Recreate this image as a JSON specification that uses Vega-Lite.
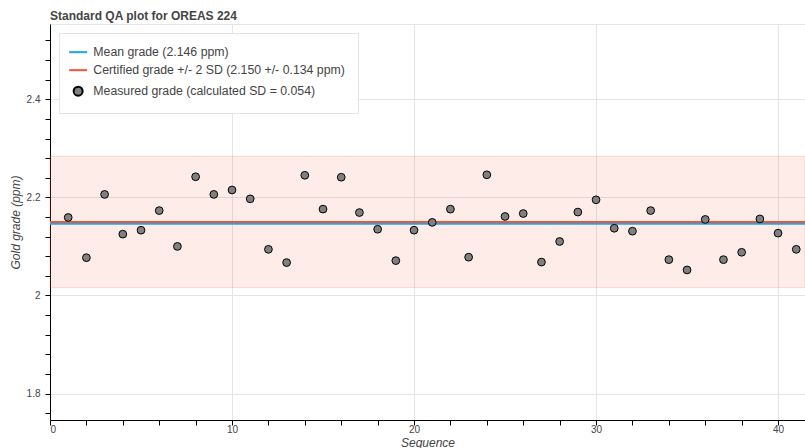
{
  "$schema": "https://vega.github.io/schema/vega-lite/v6.json",
  "description": "Standard QA plot for OREAS 224",
  "width": 755,
  "height": 396,
  "autosize": "none",
  "padding": {"left": 50, "top": 24, "right": 0, "bottom": 28},
  "title": {
    "text": "Standard QA plot for OREAS 224",
    "anchor": "start",
    "frame": "group",
    "fontSize": 12,
    "fontWeight": "bold",
    "color": "#444444",
    "baseline": "alphabetic",
    "offset": -8
  },
  "config": {
    "font": "Liberation Sans",
    "view": {"stroke": "#e5e5e5"},
    "axis": {
      "domainColor": "black",
      "tickColor": "black",
      "tickSize": 5,
      "labelColor": "#444444",
      "labelFontSize": 10,
      "gridColor": "#e5e5e5",
      "titleColor": "#444444",
      "titleFontSize": 12,
      "titleFontStyle": "italic",
      "titleFontWeight": "normal"
    },
    "legend": {
      "title": null,
      "orient": "top-left",
      "offset": 9,
      "padding": 13,
      "rowPadding": 5,
      "fillColor": "rgba(255,255,255,0.95)",
      "strokeColor": "#e5e5e5",
      "symbolSize": 81,
      "symbolStrokeWidth": 2,
      "symbolFillColor": "#808080",
      "labelFontSize": 12.3,
      "labelColor": "#444444",
      "labelOffset": 9,
      "labelLimit": 400
    }
  },
  "encoding": {
    "y": {
      "field": "grade",
      "type": "quantitative",
      "scale": {"domain": [1.746, 2.5535], "nice": false, "zero": false},
      "axis": {
        "title": "Gold grade (ppm)",
        "values": [1.76, 1.8, 1.84, 1.88, 1.92, 1.96, 2, 2.04, 2.08, 2.12, 2.16, 2.2, 2.24, 2.28, 2.32, 2.36, 2.4, 2.44, 2.48, 2.52],
        "labelExpr": "indexof([1.8, 2, 2.2, 2.4], datum.value) >= 0 ? format(datum.value, '~g') : ''",
        "gridOpacity": {"condition": {"test": "indexof([1.8, 2, 2.2, 2.4], datum.value) >= 0", "value": 1}, "value": 0},
        "labelPadding": 5,
        "titlePadding": 4
      }
    }
  },
  "layer": [
    {
      "data": {"values": [{"grade": 2.016, "upper": 2.284}]},
      "mark": {"type": "rect", "fill": "#ee4e32", "fillOpacity": 0.11, "stroke": "#ee4e32", "strokeOpacity": 0.18, "strokeWidth": 1},
      "encoding": {"y2": {"field": "upper"}}
    },
    {
      "data": {
        "values": [
          {"series": "Mean grade (2.146 ppm)", "grade": 2.146},
          {"series": "Certified grade +/- 2 SD (2.150 +/- 0.134 ppm)", "grade": 2.15}
        ]
      },
      "mark": {"type": "rule", "strokeWidth": 2},
      "encoding": {
        "color": {
          "field": "series",
          "type": "nominal",
          "scale": {
            "domain": ["Mean grade (2.146 ppm)", "Certified grade +/- 2 SD (2.150 +/- 0.134 ppm)", "Measured grade (calculated SD = 0.054)"],
            "range": ["#1aa7ec", "#ef5536", "black"]
          },
          "legend": {"title": null}
        }
      }
    },
    {
      "data": {
        "values": [
          {"seq": 1, "grade": 2.159}, {"seq": 2, "grade": 2.077}, {"seq": 3, "grade": 2.206},
          {"seq": 4, "grade": 2.125}, {"seq": 5, "grade": 2.133}, {"seq": 6, "grade": 2.173},
          {"seq": 7, "grade": 2.1}, {"seq": 8, "grade": 2.242}, {"seq": 9, "grade": 2.206},
          {"seq": 10, "grade": 2.215}, {"seq": 11, "grade": 2.197}, {"seq": 12, "grade": 2.094},
          {"seq": 13, "grade": 2.067}, {"seq": 14, "grade": 2.245}, {"seq": 15, "grade": 2.176},
          {"seq": 16, "grade": 2.241}, {"seq": 17, "grade": 2.169}, {"seq": 18, "grade": 2.135},
          {"seq": 19, "grade": 2.071}, {"seq": 20, "grade": 2.133}, {"seq": 21, "grade": 2.149},
          {"seq": 22, "grade": 2.176}, {"seq": 23, "grade": 2.078}, {"seq": 24, "grade": 2.246},
          {"seq": 25, "grade": 2.161}, {"seq": 26, "grade": 2.167}, {"seq": 27, "grade": 2.068},
          {"seq": 28, "grade": 2.11}, {"seq": 29, "grade": 2.17}, {"seq": 30, "grade": 2.195},
          {"seq": 31, "grade": 2.137}, {"seq": 32, "grade": 2.131}, {"seq": 33, "grade": 2.173},
          {"seq": 34, "grade": 2.073}, {"seq": 35, "grade": 2.052}, {"seq": 36, "grade": 2.155},
          {"seq": 37, "grade": 2.073}, {"seq": 38, "grade": 2.088}, {"seq": 39, "grade": 2.156},
          {"seq": 40, "grade": 2.127}, {"seq": 41, "grade": 2.094}
        ]
      },
      "mark": {"type": "point", "filled": true, "fill": "#808080", "stroke": "black", "strokeWidth": 1, "opacity": 1, "size": 60},
      "encoding": {
        "x": {
          "field": "seq",
          "type": "quantitative",
          "scale": {"domain": [0, 41.48], "nice": false},
          "axis": {
            "title": "Sequence",
            "values": [0, 2, 4, 6, 8, 10, 12, 14, 16, 18, 20, 22, 24, 26, 28, 30, 32, 34, 36, 38, 40],
            "labelExpr": "datum.value % 10 === 0 ? datum.label : ''",
            "gridOpacity": {"condition": {"test": "datum.value % 10 === 0", "value": 1}, "value": 0},
            "labelPadding": -1,
            "titlePadding": 3
          }
        },
        "shape": {
          "datum": "Measured grade (calculated SD = 0.054)",
          "type": "nominal",
          "scale": {
            "domain": ["Mean grade (2.146 ppm)", "Certified grade +/- 2 SD (2.150 +/- 0.134 ppm)", "Measured grade (calculated SD = 0.054)"],
            "range": ["M-2,0H2", "M-2,0H2", "circle"]
          },
          "legend": {"title": null}
        }
      }
    }
  ]
}
